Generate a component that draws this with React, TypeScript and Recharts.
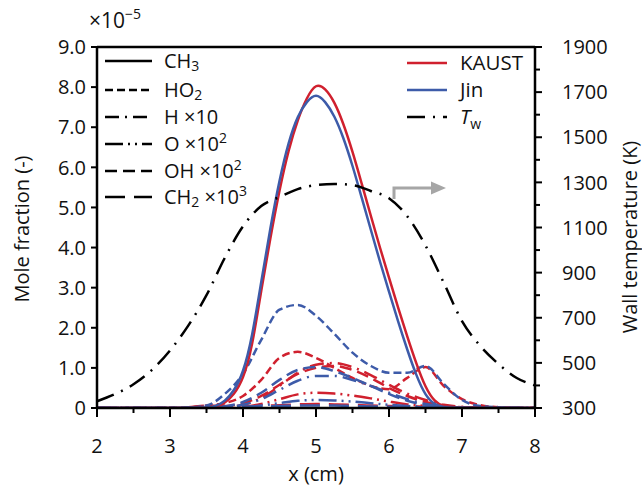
import React from "react";
import { LineChart, Line, XAxis, YAxis, ReferenceLine } from "recharts";

const FONT = '"Open Sans", "Noto Sans", sans-serif';
const RED = "#D0202E";
const BLUE = "#3D5BA9";

// x positions (cm) for the minor species and wall temperature
const xs = [2, 2.25, 2.5, 2.75, 3, 3.25, 3.5, 3.75, 4, 4.25, 4.5, 4.75, 5, 5.25, 5.5, 5.75, 6, 6.25, 6.5, 6.75, 7, 7.25, 7.5, 7.75, 8];

// finer x positions (cm) for CH3
const xsCH3 = [2, 2.5, 3, 3.5, 3.625, 3.75, 3.875, 4, 4.125, 4.25, 4.375, 4.5, 4.625, 4.75, 4.875, 5, 5.125, 5.25, 5.375, 5.5, 5.625, 5.75, 5.875, 6, 6.125, 6.25, 6.375, 6.5, 6.625, 6.75, 6.875, 7, 7.5, 8];

// mole fractions (×1e-5)
const CH3_KAUST = [0, 0, 0, 0, 0.03, 0.12, 0.33, 0.7, 1.5, 2.95, 4.25, 5.45, 6.45, 7.2, 7.75, 8.1, 7.98, 7.65, 7.1, 6.4, 5.6, 4.8, 4.0, 3.25, 2.5, 1.78, 1.1, 0.5, 0.15, 0.03, 0.01, 0, 0, 0];
const CH3_JIN = [0, 0, 0, 0, 0.04, 0.16, 0.42, 0.85, 1.75, 3.15, 4.5, 5.7, 6.65, 7.3, 7.65, 7.85, 7.65, 7.3, 6.75, 6.05, 5.25, 4.45, 3.65, 2.9, 2.15, 1.45, 0.8, 0.3, 0.08, 0.02, 0, 0, 0, 0];
const HO2_KAUST = [0, 0, 0, 0, 0, 0.01, 0.06, 0.12, 0.3, 0.7, 1.25, 1.4, 1.25, 1.0, 0.75, 0.55, 0.47, 0.75, 1.02, 0.55, 0.22, 0.07, 0.02, 0, 0];
const HO2_JIN = [0, 0, 0, 0, 0, 0.01, 0.06, 0.35, 0.85, 1.7, 2.45, 2.57, 2.3, 1.85, 1.38, 1.05, 0.88, 0.88, 1.05, 0.6, 0.2, 0.05, 0.02, 0, 0];
const H_KAUST = [0, 0, 0, 0, 0, 0, 0, 0.02, 0.08, 0.25, 0.55, 0.88, 1.08, 1.12, 1.02, 0.82, 0.58, 0.36, 0.2, 0.08, 0.03, 0.01, 0, 0, 0];
const H_JIN = [0, 0, 0, 0, 0, 0, 0, 0.02, 0.08, 0.22, 0.45, 0.68, 0.8, 0.8, 0.7, 0.55, 0.38, 0.22, 0.1, 0.04, 0.01, 0, 0, 0, 0];
const O_KAUST = [0, 0, 0, 0, 0, 0, 0, 0.01, 0.03, 0.1, 0.22, 0.34, 0.38, 0.36, 0.31, 0.24, 0.16, 0.09, 0.05, 0.02, 0.01, 0, 0, 0, 0];
const O_JIN = [0, 0, 0, 0, 0, 0, 0, 0.01, 0.02, 0.06, 0.12, 0.18, 0.2, 0.19, 0.16, 0.12, 0.08, 0.05, 0.03, 0.01, 0, 0, 0, 0, 0];
const OH_KAUST = [0, 0, 0, 0, 0, 0, 0.01, 0.04, 0.12, 0.3, 0.58, 0.85, 1.0, 1.05, 0.95, 0.75, 0.5, 0.3, 0.15, 0.06, 0.02, 0.01, 0, 0, 0];
const OH_JIN = [0, 0, 0, 0, 0, 0, 0.01, 0.04, 0.15, 0.38, 0.7, 0.95, 1.02, 0.92, 0.75, 0.55, 0.35, 0.18, 0.08, 0.03, 0.01, 0, 0, 0, 0];
const CH2_KAUST = [0, 0, 0, 0, 0, 0.02, 0.06, 0.05, 0.04, 0.05, 0.07, 0.09, 0.1, 0.09, 0.08, 0.06, 0.05, 0.04, 0.03, 0.02, 0.01, 0, 0, 0, 0];
const CH2_JIN = [0, 0, 0, 0, 0, 0.01, 0.03, 0.03, 0.03, 0.04, 0.05, 0.06, 0.06, 0.06, 0.05, 0.04, 0.03, 0.02, 0.02, 0.01, 0, 0, 0, 0, 0];

// wall temperature (K)
const TW = [330, 362, 405, 468, 555, 665, 800, 965, 1105, 1195, 1235, 1270, 1288, 1293, 1288, 1262, 1230, 1150, 1020, 855, 685, 575, 495, 433, 400];

const X_TICKS = [2, 2.5, 3, 3.5, 4, 4.5, 5, 5.5, 6, 6.5, 7, 7.5, 8];
const Y_TICKS = [0, 1, 2, 3, 4, 5, 6, 7, 8, 9];
const T_TICKS = [300, 400, 500, 600, 700, 800, 900, 1000, 1100, 1200, 1300, 1400, 1500, 1600, 1700, 1800, 1900];

const DASH = {
  CH3: undefined as string | undefined,
  HO2: "8 4",
  H: "14 6 2 6",
  O: "18 5 2 5 2 5",
  OH: "12 6",
  CH2: "20 9",
  TW: "18 8 2 8",
};

const data = xs.map((x, i) => ({
  x,
  ho2K: HO2_KAUST[i], ho2J: HO2_JIN[i],
  hK: H_KAUST[i], hJ: H_JIN[i],
  oK: O_KAUST[i], oJ: O_JIN[i],
  ohK: OH_KAUST[i], ohJ: OH_JIN[i],
  ch2K: CH2_KAUST[i], ch2J: CH2_JIN[i],
  tw: TW[i],
}));

const dataCH3 = xsCH3.map((x, i) => ({ x, ch3K: CH3_KAUST[i], ch3J: CH3_JIN[i] }));

const series = [
  { key: "ch2", dash: DASH.CH2 },
  { key: "o", dash: DASH.O },
  { key: "h", dash: DASH.H },
  { key: "oh", dash: DASH.OH },
  { key: "ho2", dash: DASH.HO2 },
];

const XTick = (props: any) => {
  const { x, y, payload } = props;
  const v = payload.value as number;
  const major = Number.isInteger(v);
  return (
    <g>
      <line x1={x} x2={x} y1={y} y2={y + (major ? 9 : 5)} stroke="#000" strokeWidth={2} />
      {major && (
        <text x={x} y={y + 45} textAnchor="middle" fontSize={20} fontFamily={FONT} fill="#111">
          {v}
        </text>
      )}
    </g>
  );
};

const LTick = (props: any) => {
  const { x, y, payload } = props;
  const v = payload.value as number;
  return (
    <g>
      <line x1={x} x2={x - 6} y1={y} y2={y} stroke="#000" strokeWidth={2} />
      <text x={x - 11} y={y} dy="0.36em" textAnchor="end" fontSize={20} fontFamily={FONT} fill="#111">
        {v === 0 ? "0" : v.toFixed(1)}
      </text>
    </g>
  );
};

const RTick = (props: any) => {
  const { x, y, payload } = props;
  const v = payload.value as number;
  const major = (v - 300) % 200 === 0;
  return (
    <g>
      <line x1={x} x2={x + (major ? 7 : 5)} y1={y} y2={y} stroke="#000" strokeWidth={2} />
      {major && (
        <text x={x + 27} y={y} dy="0.36em" textAnchor="start" fontSize={20} fontFamily={FONT} fill="#111">
          {v}
        </text>
      )}
    </g>
  );
};

const speciesLegend = [
  { dash: DASH.CH3, y: 61, label: ["CH", "3", ""], kind: "sub" },
  { dash: DASH.HO2, y: 90, label: ["HO", "2", ""], kind: "sub" },
  { dash: DASH.H, y: 117, label: ["H ×10", "", ""], kind: "none" },
  { dash: DASH.O, y: 144, label: ["O ×10", "2", ""], kind: "sup" },
  { dash: DASH.OH, y: 171, label: ["OH ×10", "2", ""], kind: "sup" },
  { dash: DASH.CH2, y: 197, label: ["CH", "2", " ×10", "3"], kind: "both" },
];

const Overlay = () => (
  <svg width={642} height={488} style={{ position: "absolute", left: 0, top: 0, pointerEvents: "none" }}>
    {/* ×10^-5 */}
    <text x={89} y={28} fontSize={21} fontFamily={FONT} fill="#111">
      ×10<tspan dy={-9} fontSize={14}>−5</tspan>
    </text>
    {/* species legend */}
    {speciesLegend.map((r, i) => (
      <g key={i}>
        <line x1={105} x2={152} y1={r.y} y2={r.y} stroke="#000" strokeWidth={2.5} strokeDasharray={r.dash} />
        <text x={164} y={r.y + 7} fontSize={20} fontFamily={FONT} fill="#111">
          {r.kind === "none" && r.label[0]}
          {r.kind === "sub" && (
            <>
              {r.label[0]}
              <tspan dy={3} fontSize={14}>{r.label[1]}</tspan>
            </>
          )}
          {r.kind === "sup" && (
            <>
              {r.label[0]}
              <tspan dy={-8} fontSize={14}>{r.label[1]}</tspan>
            </>
          )}
          {r.kind === "both" && (
            <>
              {r.label[0]}
              <tspan dy={3} fontSize={14}>{r.label[1]}</tspan>
              <tspan dy={-3}>{r.label[2]}</tspan>
              <tspan dy={-8} fontSize={14}>{r.label[3]}</tspan>
            </>
          )}
        </text>
      </g>
    ))}
    {/* model legend */}
    <line x1={407} x2={447} y1={63} y2={63} stroke={RED} strokeWidth={2.5} />
    <text x={460} y={70} fontSize={20.5} fontFamily={FONT} fill="#111">KAUST</text>
    <line x1={407} x2={447} y1={90} y2={90} stroke={BLUE} strokeWidth={2.5} />
    <text x={460} y={97} fontSize={20.5} fontFamily={FONT} fill="#111">Jin</text>
    <line x1={407} x2={447} y1={117} y2={117} stroke="#000" strokeWidth={2.5} strokeDasharray={DASH.TW} />
    <text x={460} y={124} fontSize={20.5} fontFamily={FONT} fill="#111">
      <tspan fontStyle="italic">T</tspan>
      <tspan dy={5} fontSize={14}>w</tspan>
    </text>
    {/* arrow pointing to right axis */}
    <polyline points="394,199 394,188 432,188" fill="none" stroke="#A6A6A6" strokeWidth={3} />
    <polygon points="431,181.5 446,188 431,194.5" fill="#A6A6A6" />
    {/* axis titles */}
    <text x={316} y={481} textAnchor="middle" fontSize={20} fontFamily={FONT} fill="#111">x (cm)</text>
    <text transform="translate(29,229) rotate(-90)" textAnchor="middle" fontSize={20} fontFamily={FONT} fill="#111">
      Mole fraction (-)
    </text>
    <text transform="translate(637,237) rotate(-90)" textAnchor="middle" fontSize={20} fontFamily={FONT} fill="#111">
      Wall temperature (K)
    </text>
  </svg>
);

export default function App() {
  return (
    <div style={{ position: "absolute", left: 0, top: 0, width: 642, height: 488, background: "#fff" }}>
      <LineChart width={642} height={488} data={data} margin={{ top: 47, right: 47, bottom: 50, left: 37 }}>
        <XAxis
          dataKey="x"
          type="number"
          domain={[2, 8]}
          ticks={X_TICKS}
          interval={0}
          tickSize={0}
          tickMargin={0}
          tick={<XTick />}
          height={30}
          axisLine={{ stroke: "#000", strokeWidth: 2.5 }}
          tickLine={false}
          allowDuplicatedCategory={false}
        />
        <YAxis
          yAxisId="left"
          domain={[0, 9]}
          ticks={Y_TICKS}
          interval={0}
          tickSize={0}
          tickMargin={0}
          tick={<LTick />}
          width={60}
          axisLine={{ stroke: "#000", strokeWidth: 2.5 }}
          tickLine={false}
          allowDataOverflow
        />
        <YAxis
          yAxisId="right"
          orientation="right"
          domain={[300, 1900]}
          ticks={T_TICKS}
          interval={0}
          tickSize={0}
          tickMargin={0}
          tick={<RTick />}
          width={60}
          axisLine={{ stroke: "#000", strokeWidth: 2.5 }}
          tickLine={false}
          allowDataOverflow
        />
        <ReferenceLine yAxisId="left" y={9} stroke="#000" strokeWidth={2.5} />
        {series.map((s) => (
          <Line
            key={s.key + "K"}
            yAxisId="left"
            type="monotone"
            dataKey={s.key + "K"}
            stroke={RED}
            strokeWidth={2.5}
            strokeDasharray={s.dash}
            dot={false}
            isAnimationActive={false}
          />
        ))}
        {series.map((s) => (
          <Line
            key={s.key + "J"}
            yAxisId="left"
            type="monotone"
            dataKey={s.key + "J"}
            stroke={BLUE}
            strokeWidth={2.5}
            strokeDasharray={s.dash}
            dot={false}
            isAnimationActive={false}
          />
        ))}
        <Line
          yAxisId="left"
          data={dataCH3}
          type="basis"
          dataKey="ch3K"
          stroke={RED}
          strokeWidth={2.5}
          dot={false}
          isAnimationActive={false}
        />
        <Line
          yAxisId="left"
          data={dataCH3}
          type="basis"
          dataKey="ch3J"
          stroke={BLUE}
          strokeWidth={2.5}
          dot={false}
          isAnimationActive={false}
        />
        <Line
          yAxisId="right"
          type="monotone"
          dataKey="tw"
          stroke="#000"
          strokeWidth={2.5}
          strokeDasharray={DASH.TW}
          dot={false}
          isAnimationActive={false}
        />
      </LineChart>
      <Overlay />
    </div>
  );
}
